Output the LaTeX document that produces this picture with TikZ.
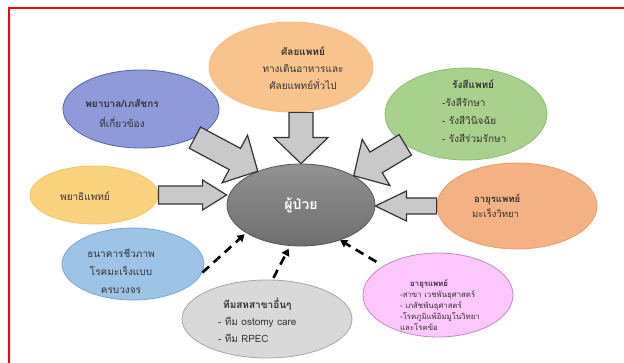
\documentclass[tikz,border=0pt]{standalone}
\usepackage{fontspec}
\newfontfamily\thaifont[Script=Thai]{Loma}
\usetikzlibrary{shapes.geometric,calc,arrows.meta}

\definecolor{surgF}{HTML}{F9C38E}
\definecolor{surgD}{HTML}{F7BD85}
\definecolor{nurseF}{HTML}{8E9ADA}
\definecolor{nurseD}{HTML}{5262A8}
\definecolor{radioF}{HTML}{A9D18E}
\definecolor{radioD}{HTML}{8CBF6C}
\definecolor{pathoF}{HTML}{FBD27E}
\definecolor{pathoD}{HTML}{F2C46A}
\definecolor{patTop}{HTML}{929292}
\definecolor{patBot}{HTML}{6E6E6E}
\definecolor{patD}{HTML}{555555}
\definecolor{oncoF}{HTML}{F4B183}
\definecolor{oncoD}{HTML}{E99C6C}
\definecolor{bankF}{HTML}{9DC3E6}
\definecolor{bankD}{HTML}{7DA9D6}
\definecolor{otherF}{HTML}{D9D9D9}
\definecolor{otherD}{HTML}{A6A6A6}
\definecolor{genF}{HTML}{FDC6FC}
\definecolor{genD}{HTML}{C587C8}
\definecolor{blkF}{HTML}{C9C9C9}
\definecolor{blkD}{HTML}{333333}
\definecolor{ink}{HTML}{333333}

\tikzset{
  bub/.style 2 args={ellipse, inner sep=0pt, fill=#1, draw=#2, line width=0.8pt},
  txt/.style={text=ink, inner sep=0pt},
  % hollow block arrow between two points: shaft half-width, head half-width, head length
  blk/.style n args={3}{draw=blkD, fill=blkF, line width=1.2pt, line join=miter,
    to path={let \p1=(\tikztostart), \p2=(\tikztotarget),
      \n1={atan2(\y2-\y1,\x2-\x1)}, \n2={veclen(\x2-\x1,\y2-\y1)} in
      [shift={(\p1)}, rotate=\n1]
      (0,#1) -- ({\n2-#3},#1) -- ({\n2-#3},#2) -- (\n2,0) --
      ({\n2-#3},-#2) -- ({\n2-#3},-#1) -- (0,-#1) -- cycle}},
  dsh/.style={draw=black, line width=2.6pt, dash pattern=on 9pt off 6pt,
    -{Triangle[length=7pt,width=8pt]}}
}

\begin{document}
\begin{tikzpicture}[x=1pt, y=-1pt, font=\thaifont\fontsize{10}{17}\selectfont]
\useasboundingbox (0,0) rectangle (624,363);
\clip (0,0) rectangle (624,363);

% frame
\draw[red, line width=1.6pt] (9,363) -- (9,8) -- (624,8);

% satellite specialties
\node[bub={surgF}{surgD}, minimum width=164pt, minimum height=90pt] (surgeon) at (291,67) {};
\node[bub={nurseF}{nurseD}, minimum width=156pt, minimum height=78pt] (nurse) at (141,109) {};
\node[bub={radioF}{radioD}, minimum width=162pt, minimum height=92pt] (radio) at (466,114) {};
\node[bub={pathoF}{pathoD}, minimum width=128pt, minimum height=58pt] (patho) at (94,195) {};
\node[bub={oncoF}{oncoD}, minimum width=160pt, minimum height=86pt] (onco) at (517,206) {};
\node[bub={bankF}{bankD}, minimum width=142pt, minimum height=72pt] (bank) at (133,264) {};
\node[bub={otherF}{otherD}, minimum width=170pt, minimum height=78pt] (other) at (267,319) {};
\node[bub={genF}{genD}, minimum width=150pt, minimum height=84pt] (genet) at (438,295) {};

% patient at the hub
\node[ellipse, inner sep=0pt, minimum width=148pt, minimum height=82pt,
      top color=patTop, bottom color=patBot, draw=patD, line width=0.8pt] (patient) at (301,205) {};

% labels
\node[txt, align=center] (surgeonT) at (303,68)
  {\textbf{ศัลยแพทย์}\\ทางเดินอาหารและ\\ศัลยแพทย์ทั่วไป};
\node[txt, align=center, font=\thaifont\fontsize{10}{20}\selectfont] (nurseT) at (122,113)
  {\textbf{พยาบาล/เภสัชกร}\\ที่เกี่ยวข้อง};
\node[txt, align=left, anchor=west, font=\thaifont\fontsize{10}{18}\selectfont] (radioT) at (442,111)
  {\hspace*{10pt}\textbf{รังสีแพทย์}\\-รังสีรักษา\\- รังสีวินิจฉัย\\- รังสีร่วมรักษา};
\node[txt] (pathoT) at (85,196) {พยาธิแพทย์};
\node[text=white, inner sep=0pt, font=\thaifont\fontsize{14}{16}\selectfont\bfseries] (patientT) at (301,205) {ผู้ป่วย};
\node[txt, align=left, anchor=west, font=\thaifont\fontsize{9.5}{15}\selectfont] (oncoT) at (472,206)
  {\hspace*{2pt}\textbf{อายุรแพทย์}\\มะเร็งวิทยา};
\node[txt, align=center, font=\thaifont\fontsize{10}{18}\selectfont] (bankT) at (121,271)
  {ธนาคารชีวภาพ\\โรคมะเร็งแบบ\\ครบวงจร};
\node[txt, align=left, anchor=west, font=\thaifont\fontsize{10}{17}\selectfont] (otherT) at (218,320)
  {\hspace*{5pt}\textbf{ทีมสหสาขาอื่นๆ}\\- ทีม ostomy care\\- ทีม RPEC};
\node[txt, align=left, anchor=west, font=\thaifont\fontsize{7.8}{10.8}\selectfont] (genetT) at (400,305)
  {\hspace*{10pt}\textbf{อายุรแพทย์}\\-สาขา เวชพันธุศาสตร์\\- เภสัชพันธุศาสตร์\\-โรคภูมิแพ้อิมมูโนวิทยา\\และโรคข้อ};

% block arrows into the patient
\draw[blk={12}{27}{26}] (patient.north |- surgeon.south) to (patient.north);
\draw[blk={12}{27}{26}] (nurse.-28) to (patient.142);
\draw[blk={12}{27}{26}] (radio.207) to (patient.29);
\draw[blk={9}{15}{24}] (patho.east) to (patho.east -| patient.west);
\draw[blk={8}{15}{31}] (onco.west) to (onco.west -| patient.east);

% dashed links into the patient
\draw[dsh, shorten >=2pt] (bank.-7) -- (patient.207);
\draw[dsh, shorten <=2pt, shorten >=3pt] (other.82) -- (patient.-105);
\draw[dsh, shorten <=8pt] (genet.152) -- (patient.-42);
\end{tikzpicture}
\end{document}
